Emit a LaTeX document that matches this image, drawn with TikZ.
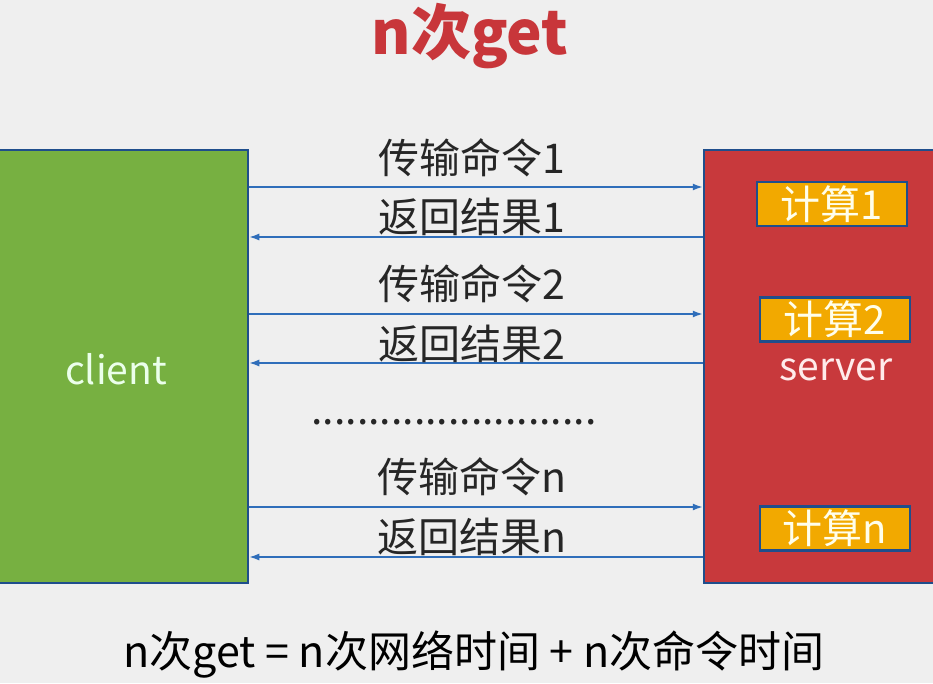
\documentclass[tikz,border=0pt]{standalone}
\usepackage{fontspec}
\setmainfont{Noto Sans CJK SC}
\usetikzlibrary{arrows.meta}
\definecolor{bg}{HTML}{EFEFEF}
\definecolor{clientgreen}{HTML}{77B041}
\definecolor{serverred}{HTML}{C8393C}
\definecolor{calcorange}{HTML}{F2A900}
\definecolor{edgeblue}{HTML}{1F4E8C}
\definecolor{arrowblue}{HTML}{2F6EBA}
\definecolor{titlered}{HTML}{C8363A}
\tikzset{
  x=1pt, y=-1pt,
  bigbox/.style={draw=edgeblue, line width=2.5pt, inner sep=0pt},
  calcbox/.style={draw=edgeblue, line width=2.5pt, fill=calcorange, minimum width=150pt, minimum height=44pt, inner sep=0pt, text=white!92!yellow, font=\fontsize{40}{44}\selectfont},
  lbl/.style={font=\fontsize{41}{45}\selectfont, text=black!85, inner sep=0pt},
  msg/.style={arrowblue, line width=1.5pt, -{Latex[length=10pt,width=7pt]}},
}
\begin{document}
\begin{tikzpicture}
\useasboundingbox (0,0) rectangle (933,683);
\fill[bg] (0,0) rectangle (933,683);
% title
\node[font=\fontsize{60}{64}\selectfont\bfseries, text=titlered] (title) at (470,36) {n次get};
% boxes
\node[bigbox, fill=clientgreen, minimum width=256pt, minimum height=433pt] (client) at (120,366.5) {};
\node[bigbox, fill=serverred, minimum width=240pt, minimum height=433pt] (server) at (824,366.5) {};
\node[text=white!92!green, font=\fontsize{39}{43}\selectfont] (clientlbl) at (116,369) {client};
\node[text=white!92!red, font=\fontsize{39}{43}\selectfont] (serverlbl) at (836,370) {server};
\node[calcbox] (c1) at (832,204) {计算1};
\node[calcbox] (c2) at (835,319.5) {计算2};
\node[calcbox] (cn) at (835,528.5) {计算n};
% rows
\coordinate (r1) at (0,187);
\coordinate (b1) at (0,237);
\coordinate (r2) at (0,314);
\coordinate (b2) at (0,363);
\coordinate (rn) at (0,507);
\coordinate (bn) at (0,557);
\draw[msg] (client.east |- r1) -- (server.west |- r1);
\draw[msg] (server.west |- b1) -- (client.east |- b1);
\draw[msg] (client.east |- r2) -- (server.west |- r2);
\draw[msg] (server.west |- b2) -- (client.east |- b2);
\draw[msg] (client.east |- rn) -- (server.west |- rn);
\draw[msg] (server.west |- bn) -- (client.east |- bn);
\node[lbl] (t1) at (472,158) {传输命令1};
\node[lbl] (f1) at (472,217) {返回结果1};
\node[lbl] (t2) at (472,284) {传输命令2};
\node[lbl] (f2) at (472,344) {返回结果2};
\node[lbl] (dots) at (454,422) {.........................};
\node[lbl] (tn) at (472,477) {传输命令n};
\node[lbl] (fn) at (472,537) {返回结果n};
% formula
\node[lbl, text=black, font=\fontsize{43}{47}\selectfont] (formula) at (474,655) {n次get = n次网络时间 + n次命令时间};
\end{tikzpicture}
\end{document}
